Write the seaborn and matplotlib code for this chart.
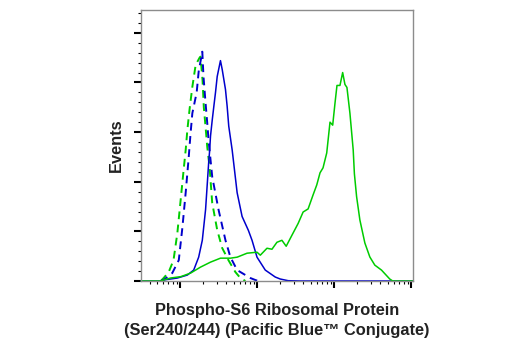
import numpy as np
import pandas as pd
import matplotlib
matplotlib.use("Agg")
import matplotlib.pyplot as plt
import matplotlib.ticker as mticker
import seaborn as sns

# Fluorescence intensity (x) and event counts (y) for each histogram
treated_x = [31, 56, 61, 75, 102, 137, 184, 248, 334, 450, 550, 740, 997, 1100, 1343,
             1559, 1809, 2100, 2386, 2829, 3412, 3960, 4597, 5333, 5956, 6569, 7185,
             8024, 8851, 9592, 10271, 10902, 11921, 12926, 13836, 14690, 16065, 17720,
             18360, 19610, 21630, 25110, 29140, 33820, 41290, 52870, 57810, 106000]
treated_y = [0, 0, 1, 3, 4.4, 8, 14, 19, 23, 23, 24, 28, 29, 26, 33,
             32, 39, 41, 35, 46, 58, 69.5, 72.6, 86.7, 96.8, 109, 114,
             129, 160, 157, 179, 197, 197, 210, 198, 195, 169, 132,
             108, 85, 61.5, 38.3, 24.2, 16, 11, 2, 0, 0]

untreated_x = [31, 56, 61, 92, 124, 150, 174, 194, 214, 236, 241, 248, 261, 274, 288,
               303, 334, 352, 388, 408, 428, 474, 550, 638, 770, 859, 997, 1276, 1720,
               1996, 2533, 3622, 106000]
untreated_y = [0, 0, 1, 3, 6, 11, 24, 41, 72, 122, 130, 146, 162, 176, 190,
               206, 222, 213, 193, 176, 156, 132, 89, 65, 51, 41, 24, 11, 4,
               2, 0.3, 0, 0]

treated_iso_x = [56, 61, 71, 82, 92, 101.5, 111, 118, 124, 133, 144, 159, 179, 184,
                 195.5, 203, 214, 225, 241, 261, 303, 351.5, 424, 522, 606, 704]
treated_iso_y = [0, 3, 9, 21, 48.4, 81.6, 112, 132, 152, 174, 195.5, 217.7, 225, 226,
                 202, 175, 155, 135, 115, 78.6, 51.4, 33.3, 21, 9, 3, 0]

untreated_iso_x = [56, 61, 79, 96, 107, 118, 129, 136, 144, 164, 174, 194, 201, 214,
                   225, 234, 261, 315, 388, 450, 550, 817, 948, 1036]
untreated_iso_y = [0, 1, 8, 21, 54, 89, 124, 147, 169, 190, 211, 231, 206, 179,
                   159, 142, 105, 72, 41, 24, 11, 3, 1, 0]

x_major = [1e2, 1e3, 1e4, 1e5]
x_limits = (31, 106000)
y_limits = (0, 273)

blue = "#0000cc"
green = "#00cc00"

sns.set_theme(style="white")
plt.rcParams["font.family"] = ["Liberation Sans", "DejaVu Sans"]

fig = plt.figure(figsize=(5.2, 3.5), dpi=100)
ax = fig.add_axes([141 / 520, 1 - 281 / 350, 272 / 520, 271 / 350])

series = [
    (treated_iso_x, treated_iso_y, green, (0, (4, 2.8)), 1.4),
    (untreated_iso_x, untreated_iso_y, blue, (0, (4, 2.8)), 1.4),
    (untreated_x, untreated_y, blue, "-", 1.1),
    (treated_x, treated_y, green, "-", 1.1),
]
for xs, ys, col, ls, lw in series:
    df = pd.DataFrame({"x": xs, "y": ys})
    sns.lineplot(data=df, x="x", y="y", ax=ax, color=col, linestyle=ls,
                 linewidth=lw, estimator=None, sort=False, clip_on=False)

ax.set_xscale("log")
ax.set_xlim(*x_limits)
ax.set_ylim(*y_limits)

ax.xaxis.set_major_locator(mticker.FixedLocator(x_major))
ax.xaxis.set_minor_locator(mticker.LogLocator(base=10, subs=np.arange(2, 10), numticks=20))
ax.yaxis.set_major_locator(mticker.MultipleLocator(50))
ax.yaxis.set_minor_locator(mticker.MultipleLocator(10))
ax.xaxis.set_major_formatter(mticker.NullFormatter())
ax.xaxis.set_minor_formatter(mticker.NullFormatter())
ax.yaxis.set_major_formatter(mticker.NullFormatter())

ax.tick_params(axis="both", which="major", direction="out", length=5, width=1.5,
               color="black", bottom=True, left=True, top=False, right=False)
ax.tick_params(axis="both", which="minor", direction="out", length=2.5, width=0.8,
               color="black", bottom=True, left=True, top=False, right=False)

for side in ["top", "right", "left", "bottom"]:
    ax.spines[side].set_color("#8c8c8c")
    ax.spines[side].set_linewidth(1.0)

label_font = dict(family=["Liberation Sans", "DejaVu Sans"], weight="bold", size=11.8)
ax.set_xlabel("Phospho-S6 Ribosomal Protein\n(Ser240/244) (Pacific Blue™ Conjugate)",
              fontdict=label_font, color="#222222", labelpad=7, linespacing=1.45)
ax.set_ylabel("Events", fontdict=label_font, color="#222222", labelpad=4)

fig.savefig("out.png", dpi=100)
